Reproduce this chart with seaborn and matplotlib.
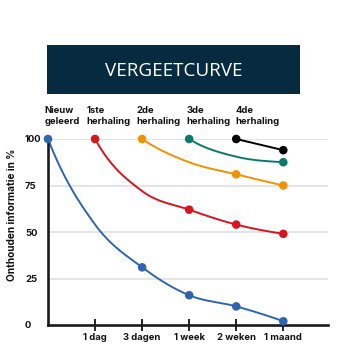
import numpy as np
import pandas as pd
import matplotlib
matplotlib.use("Agg")
import matplotlib.pyplot as plt
import seaborn as sns
from matplotlib.patches import Rectangle

# ---- data ----
x_labels = ["", "1 dag", "3 dagen", "1 week", "2 weken", "1 maand"]
series_names = ["Nieuw\ngeleerd", "1ste\nherhaling", "2de\nherhaling", "3de\nherhaling", "4de\nherhaling"]
blue = [100, 54, 31, 16, 10, 2]
red = [None, 100, 72, 62, 54, 49]
orange = [None, None, 100, 87.5, 81, 75]
teal = [None, None, None, 100, 90.5, 87.5]
black = [None, None, None, None, 100, 94]
colors = ["#2f64b3", "#d7141f", "#f39200", "#0b7a6c", "#000000"]
y_ticks = [0, 25, 50, 75, 100]
title = "VERGEETCURVE"
y_label = "Onthouden informatie in %"

all_series = [blue, red, orange, teal, black]

rows = []
for name, vals in zip(series_names, all_series):
    start = next(i for i, v in enumerate(vals) if v is not None)
    npts = len([u for u in vals if u is not None])
    for i, v in enumerate(vals):
        if v is None:
            continue
        marked = not (i == start + 1 and npts > 2)
        rows.append({"serie": name, "x": i, "y": v, "marked": marked})
df = pd.DataFrame(rows)


def smooth(xs, ys, n=60):
    """Cubic Hermite curve through the points (drawing only)."""
    xs = np.asarray(xs, float); ys = np.asarray(ys, float)
    N = len(xs)
    if N == 2:
        t = np.linspace(xs[0], xs[-1], n)
        return t, np.interp(t, xs, ys)
    d = np.diff(ys) / np.diff(xs)
    m = np.zeros(N)
    for k in range(1, N - 1):
        m[k] = (d[k - 1] + d[k]) / 2
    m[0] = d[0] * np.sqrt(abs(d[0] / d[1]))
    m[0] = max(m[0], 3 * d[0] - 2 * m[1])
    m[-1] = d[-1] * np.sqrt(abs(d[-1] / d[-2]))
    tx, ty = [], []
    for k in range(N - 1):
        hk = xs[k + 1] - xs[k]
        t = np.linspace(0, 1, n)
        h00 = 2 * t**3 - 3 * t**2 + 1; h10 = t**3 - 2 * t**2 + t
        h01 = -2 * t**3 + 3 * t**2; h11 = t**3 - t**2
        tx.append(xs[k] + t * hk)
        ty.append(h00 * ys[k] + h10 * hk * m[k] + h01 * ys[k + 1] + h11 * hk * m[k + 1])
    return np.concatenate(tx), np.concatenate(ty)


sns.set_theme(style="white")
plt.rcParams["font.family"] = ["Inter", "DejaVu Sans"]

fig = plt.figure(figsize=(3.5, 3.5), dpi=100)
ax = fig.add_axes([48 / 350, 25 / 350, 280 / 350, 186 / 350])
ax.set_xlim(0, 5.95)
ax.set_ylim(0, 100)

for yt in y_ticks[1:]:
    ax.axhline(yt, color="#e3e3e3", lw=1.3, zorder=0)

for name, col in zip(series_names, colors):
    sub = df[df.serie == name]
    sx, sy = smooth(sub.x.values, sub.y.values)
    ax.plot(sx, sy, color=col, lw=1.4, zorder=2, solid_capstyle="round")
    sns.scatterplot(data=sub[sub.marked], x="x", y="y", color=col, s=38,
                    edgecolor="none", ax=ax, zorder=3, clip_on=False, legend=False)

fs = 6.8
ax.set_xlabel(""); ax.set_ylabel("")
ax.set_xticks(range(1, 6))
ax.set_xticklabels(x_labels[1:], fontsize=fs, fontweight="bold", color="#111111")
ax.set_yticks(y_ticks)
ax.set_yticklabels([str(v) for v in y_ticks], fontsize=fs, fontweight="bold", color="#111111",
                   ha="left")
ax.tick_params(axis="x", direction="inout", length=8, width=1.3, color="#111111", pad=2, bottom=True)
ax.tick_params(axis="y", length=0, pad=16.5)
for s in ["top", "right"]:
    ax.spines[s].set_visible(False)
for s in ["left", "bottom"]:
    ax.spines[s].set_color("#1a1a1a")
    ax.spines[s].set_linewidth(1.9)

label_x = [-0.07, 0.82, 1.87, 2.94, 3.99]
for name, lx in zip(series_names, label_x):
    ax.text(lx, 1.0 + 23 / 186, name, transform=ax.get_xaxis_transform(),
            fontsize=fs, fontweight="bold", color="#111111", ha="left", va="center",
            linespacing=1.2)

fig.text(12 / 350, 1 - 215 / 350, y_label, rotation=90, ha="center", va="center",
         fontsize=7.3, fontweight="bold", color="#111111")

fig.patches.append(Rectangle((47 / 350, 1 - 94 / 350), 253 / 350, 49 / 350,
                             transform=fig.transFigure, facecolor="#062a40",
                             edgecolor="none", zorder=1))
fig.text(174 / 350, 1 - 71 / 350, title, ha="center", va="center", color="white",
         fontsize=13.6, fontfamily=["Open Sans", "DejaVu Sans"], zorder=2)

fig.savefig("out.png", dpi=100, facecolor="white")
